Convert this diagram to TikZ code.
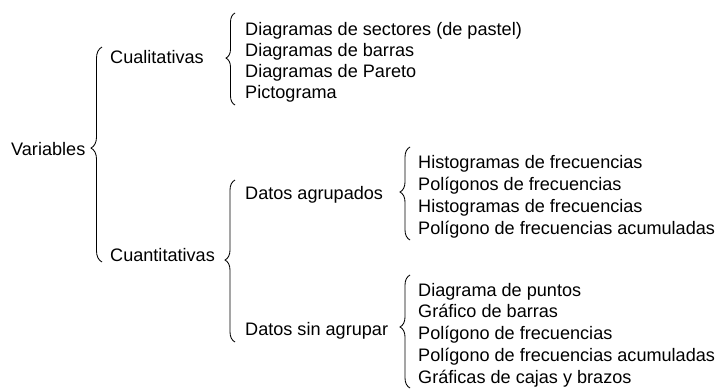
\documentclass[tikz,border=0pt]{standalone}
\usepackage{fontspec}
\setmainfont{Liberation Sans}
\usetikzlibrary{decorations.pathreplacing}

\begin{document}
\begin{tikzpicture}[x=1pt,y=-1pt,
  lbl/.style={anchor=base west,inner sep=0pt,font=\fontsize{18.1}{21}\selectfont},
  brc/.style 2 args={decorate,line width=0.85pt,
    decoration={brace,amplitude=#1,aspect=#2}}]
  \useasboundingbox (0,0) rectangle (722,389);
  % first level
  \node[lbl] (var) at (11,155) {Variables};
  \node[lbl] (cual) at (110,63) {Cualitativas};
  \node[lbl] (cuan) at (110,261) {Cuantitativas};
  % second level
  \node[lbl] (agr) at (245,199) {Datos agrupados};
  \node[lbl] (sin) at (245,335) {Datos sin agrupar};
  % lists
  \foreach \t [count=\i] in {Diagramas de sectores (de pastel),Diagramas de barras,
      Diagramas de Pareto,Pictograma}
    \node[lbl] (c\i) at (245,{35+21.3*(\i-1)}) {\t};
  \foreach \t [count=\i] in {Histogramas de frecuencias,Polígonos de frecuencias,
      Histogramas de frecuencias,Polígono de frecuencias acumuladas}
    \node[lbl] (a\i) at (418,{168+22*(\i-1)}) {\t};
  \foreach \t [count=\i] in {Diagrama de puntos,Gráfico de barras,Polígono de frecuencias,
      Polígono de frecuencias acumuladas,Gráficas de cajas y brazos}
    \node[lbl] (s\i) at (418,{296+21.8*(\i-1)}) {\t};
  % brace ends
  \coordinate (v1) at (102,262); \coordinate (v2) at (102,47);
  \coordinate (q1) at (235,105); \coordinate (q2) at (235,13);
  \coordinate (n1) at (235,342); \coordinate (n2) at (235,180);
  \coordinate (g1) at (410,240); \coordinate (g2) at (410,147);
  \coordinate (p1) at (410,388); \coordinate (p2) at (410,275);
  % braces
  \draw[brc={11pt}{0.53}] (v1) -- (v2);
  \draw[brc={9pt}{0.51}] (q1) -- (q2);
  \draw[brc={10pt}{0.506}] (n1) -- (n2);
  \draw[brc={10pt}{0.516}] (g1) -- (g2);
  \draw[brc={10pt}{0.54}] (p1) -- (p2);
\end{tikzpicture}
\end{document}
